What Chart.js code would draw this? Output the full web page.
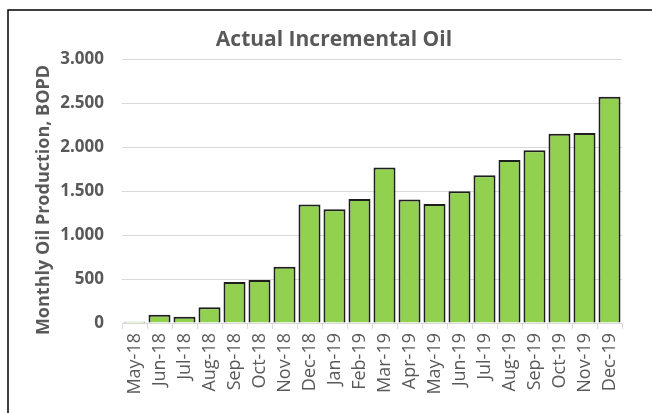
<!DOCTYPE html>
<html>
<head>
<meta charset="utf-8">
<script src="https://cdn.jsdelivr.net/npm/chart.js@4/dist/chart.umd.min.js"></script>
<style>
html,body{margin:0;padding:0;background:#fff;}
#wrap{position:relative;width:652px;height:413px;}
</style>
</head>
<body>
<div id="wrap"><canvas id="c" width="652" height="413"></canvas></div>
<script>
const months = ["May-18","Jun-18","Jul-18","Aug-18","Sep-18","Oct-18","Nov-18","Dec-18",
  "Jan-19","Feb-19","Mar-19","Apr-19","May-19","Jun-19","Jul-19","Aug-19","Sep-19","Oct-19","Nov-19","Dec-19"];
const oilBOPD = [15, 95, 72, 178, 466, 489, 640, 1349, 1295, 1413, 1769, 1405, 1356, 1500, 1682, 1856, 1966, 2155, 2163, 2576];
const yTicks = [0, 500, 1000, 1500, 2000, 2500, 3000];
const chartTitle = "Actual Incremental Oil";
const yTitle = "Monthly Oil Production, BOPD";

const fmt = v => v.toLocaleString('de-DE', {minimumFractionDigits: 0});

const frame = {
  id: 'frame',
  beforeDraw(chart) {
    const ctx = chart.ctx;
    ctx.save();
    ctx.fillStyle = '#fff';
    ctx.fillRect(0, 0, chart.width, chart.height);
    ctx.strokeStyle = '#000';
    ctx.lineWidth = 1.5;
    ctx.beginPath();
    ctx.moveTo(8, chart.height + 2);
    ctx.lineTo(8, 10);
    ctx.lineTo(chart.width + 2, 10);
    ctx.stroke();
    ctx.restore();
  },
  afterDraw(chart) {
    const ctx = chart.ctx;
    ctx.save();
    ctx.fillStyle = '#595959';
    ctx.textAlign = 'center';
    ctx.textBaseline = 'middle';
    ctx.font = 'bold 21px "Open Sans"';
    ctx.fillText(chartTitle, 334, 40);
    ctx.translate(44, 200);
    ctx.rotate(-Math.PI / 2);
    ctx.font = 'bold 18px "Open Sans"';
    ctx.fillText(yTitle, 0, 0);
    ctx.restore();
  }
};

new Chart(document.getElementById('c'), {
  type: 'bar',
  data: {
    labels: months,
    datasets: [{
      data: oilBOPD,
      backgroundColor: '#92D050',
      borderColor: '#1e1e1e',
      borderWidth: 2,
      barPercentage: 0.88,
      categoryPercentage: 1.0
    }]
  },
  options: {
    responsive: false,
    animation: false,
    devicePixelRatio: 1,
    layout: { padding: { left: 0, right: 30, top: 59.5, bottom: 0 } },
    plugins: {
      legend: { display: false },
      tooltip: { enabled: false },
      title: { display: false }
    },
    scales: {
      x: {
        offset: true,
        grid: { display: true, drawOnChartArea: false, drawTicks: true, tickLength: 6, color: '#d9d9d9', offset: true },
        border: { display: true, color: '#d9d9d9', width: 1 },
        ticks: {
          color: '#595959',
          font: { family: 'Open Sans', size: 18 },
          minRotation: 90, maxRotation: 90,
          padding: 4,
          autoSkip: false
        },
        afterFit: s => { s.height = 90; }
      },
      y: {
        min: 0, max: 3000,
        afterBuildTicks: s => { s.ticks = yTicks.map(v => ({ value: v })); },
        grid: { color: '#d9d9d9', drawTicks: false, lineWidth: 1 },
        border: { display: false },
        ticks: {
          color: '#595959',
          font: { family: 'Open Sans', size: 17, weight: 'bold' },
          padding: 18,
          callback: v => fmt(v)
        },
        afterFit: s => { s.width = 122; }
      }
    }
  },
  plugins: [frame]
});
</script>
</body>
</html>
